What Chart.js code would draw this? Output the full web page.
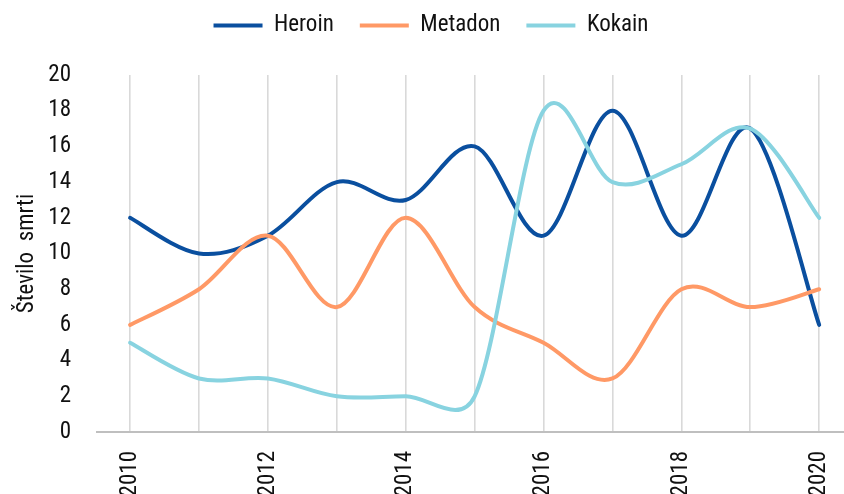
<!DOCTYPE html>
<html>
<head>
  <meta charset="utf-8">
  <title>Število smrti</title>
  <script src="https://cdn.jsdelivr.net/npm/chart.js"></script>
  <style>
    html, body { margin: 0; padding: 0; background: #fff; }
  </style>
</head>
<body>
  <canvas id="deathsChart" width="844" height="494"></canvas>

  <script>
    // data
    const years = [2010, 2011, 2012, 2013, 2014, 2015, 2016, 2017, 2018, 2019, 2020];
    const heroin = [12, 10, 11, 14, 13, 16, 11, 18, 11, 17, 6];
    const metadon = [6, 8, 11, 7, 12, 7, 5, 3, 8, 7, 8];
    const kokain = [5, 3, 3, 2, 2, 2, 18, 14, 15, 17, 12];
    const yTicks = [0, 2, 4, 6, 8, 10, 12, 14, 16, 18, 20];

    const FONT = "'Roboto Condensed', 'Roboto', sans-serif";

    function toPoints(values) {
      return years.map((y, i) => ({ x: y, y: values[i] }));
    }

    function lineSet(label, values, color, order) {
      return {
        label: label,
        data: toPoints(values),
        borderColor: color,
        backgroundColor: color,
        borderWidth: 4,
        borderCapStyle: 'round',
        pointRadius: 0,
        tension: 0.4,
        fill: false,
        order: order
      };
    }

    // spreadsheet-style smoothing: tangent = (next - prev) / 6,
    // kept within half of the neighbouring segment
    const smoothLines = {
      id: 'smoothLines',
      beforeDatasetsDraw(chart) {
        chart.getSortedVisibleDatasetMetas().forEach(meta => {
          const pts = meta.data;
          meta.dataset.updateControlPoints(chart.chartArea, 'x');
          pts.forEach((p, i) => {
            const prev = pts[Math.max(i - 1, 0)];
            const next = pts[Math.min(i + 1, pts.length - 1)];
            const tx = (next.x - prev.x) / 6;
            const ty = (next.y - prev.y) / 6;
            const len = Math.hypot(tx, ty) || 1;
            const kIn = Math.min(1, Math.hypot(p.x - prev.x, p.y - prev.y) / 2 / len);
            const kOut = Math.min(1, Math.hypot(next.x - p.x, next.y - p.y) / 2 / len);
            p.cp1x = p.x - tx * kIn;
            p.cp1y = p.y - ty * kIn;
            p.cp2x = p.x + tx * kOut;
            p.cp2y = p.y + ty * kOut;
          });
        });
      }
    };

    // legend block height = space above plot; nudge legend row like the original
    const legendPlace = {
      id: 'legendPlace',
      beforeInit(chart) {
        const fit = chart.legend.fit;
        chart.legend.fit = function () {
          fit.bind(chart.legend)();
          this.height = 75;
        };
      },
      afterLayout(chart) {
        const lg = chart.legend;
        lg.top -= 12;
        lg.left += 9;
        lg.right += 9;
      }
    };

    const ctx = document.getElementById('deathsChart').getContext('2d');
    new Chart(ctx, {
      type: 'line',
      data: {
        datasets: [
          lineSet('Heroin', heroin, '#0a4f9f', 2),
          lineSet('Metadon', metadon, '#ff9966', 1),
          lineSet('Kokain', kokain, '#88d3e0', 0)
        ]
      },
      options: {
        responsive: false,
        animation: false,
        plugins: {
          tooltip: { enabled: false },
          legend: {
            position: 'top',
            labels: {
              usePointStyle: true,
              pointStyle: 'line',
              pointStyleWidth: 49,
              padding: 26,
              color: '#111',
              font: { family: FONT, size: 23 },
              sort: (a, b) => a.datasetIndex - b.datasetIndex
            }
          }
        },
        scales: {
          x: {
            type: 'linear',
            min: 2009.52,
            max: 2020.36,
            afterBuildTicks: (scale) => {
              scale.ticks = years.map(v => ({ value: v }));
            },
            afterFit: (scale) => {
              scale.height = 62;
              scale.paddingLeft = 0;
              scale.paddingRight = 0;
            },
            grid: { color: '#d9d9d9', lineWidth: 1.6, drawTicks: false },
            border: { color: '#bfbfbf', width: 2 },
            ticks: {
              minRotation: 90,
              maxRotation: 90,
              padding: 19,
              autoSkip: false,
              color: '#111',
              font: { family: FONT, size: 23 },
              callback: (v) => (v % 2 === 0 ? String(v) : '')
            }
          },
          y: {
            min: 0,
            max: 20,
            afterBuildTicks: (scale) => {
              scale.ticks = yTicks.map(v => ({ value: v }));
            },
            afterFit: (scale) => { scale.width = 97; },
            grid: { display: false, drawTicks: false },
            border: { display: false },
            ticks: {
              padding: 26,
              color: '#111',
              font: { family: FONT, size: 23 }
            },
            title: {
              display: true,
              text: 'Število  smrti',
              color: '#111',
              padding: { top: 13, bottom: 0 },
              font: { family: FONT, size: 23 }
            }
          }
        }
      },
      plugins: [legendPlace, smoothLines]
    });
  </script>
</body>
</html>
